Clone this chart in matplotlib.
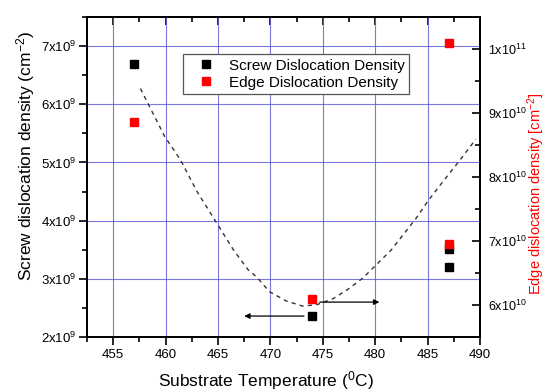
import matplotlib
matplotlib.use("Agg")
import matplotlib.pyplot as plt
from matplotlib.ticker import FuncFormatter, MultipleLocator

plt.rcParams['font.family'] = ['Liberation Sans', 'DejaVu Sans']
plt.rcParams['mathtext.fontset'] = 'custom'
plt.rcParams['mathtext.rm'] = 'Liberation Sans'
plt.rcParams['mathtext.it'] = 'Liberation Sans:italic'
plt.rcParams['mathtext.bf'] = 'Liberation Sans:bold'

# ---- data ----
screw_temp = [457, 474, 487, 487]
screw_density = [6.70e9, 2.36e9, 3.21e9, 3.51e9]

edge_temp = [457, 474, 487, 487]
edge_density = [8.86e10, 6.09e10, 1.01e11, 6.96e10]

# dashed guide curve (left-axis units)
curve_temp = [457.6, 459.9, 461.4, 463.0, 464.8, 466.5, 467.9, 468.7, 469.9,
              471.5, 473.1, 474.5, 476.0, 477.4, 478.8, 481.5, 483.9,
              485.0, 486.5, 488.0, 489.6]
curve_density = [6.27e9, 5.45e9, 5.05e9, 4.50e9, 3.98e9, 3.49e9, 3.15e9, 3.03e9,
                 2.78e9, 2.62e9, 2.53e9, 2.56e9, 2.66e9, 2.82e9, 3.01e9,
                 3.49e9, 4.04e9, 4.33e9, 4.68e9, 5.02e9, 5.40e9]

# arrows (left axis units)
arrow_left = ((473.2, 2.36e9), (467.5, 2.36e9))
arrow_right = ((474.7, 2.60e9), (480.4, 2.60e9))

x_ticks = [455, 460, 465, 470, 475, 480, 485, 490]
left_ticks = [2e9, 3e9, 4e9, 5e9, 6e9, 7e9]
right_ticks = [6e10, 7e10, 8e10, 9e10, 1e11]

fig = plt.figure(figsize=(5.48, 3.92), dpi=100)
ax = fig.add_axes([87/548, 1-337/392, (480-87)/548, (337-17)/392])
ax.set_xlim(452.5, 490)
ax.set_ylim(2e9, 7.5e9)

ax.set_xticks(x_ticks)
ax.xaxis.set_minor_locator(MultipleLocator(2.5))
ax.set_yticks(left_ticks)
ax.yaxis.set_minor_locator(MultipleLocator(0.5e9))
ax.yaxis.set_major_formatter(FuncFormatter(
    lambda v, p: f'{int(round(v/1e9))}x10$^{{9}}$'))
ax.tick_params(axis='x', which='major', direction='out', length=6, width=1.2,
               labelsize=9.5, pad=3)
ax.tick_params(axis='x', which='minor', direction='out', length=3.5, width=1.2)
ax.tick_params(axis='y', which='major', direction='out', length=6, width=1.2,
               labelsize=9.5, pad=1.5)
ax.tick_params(axis='y', which='minor', direction='out', length=3.5, width=1.2)
for s in ax.spines.values():
    s.set_linewidth(1.3)

ax.grid(True, which='major', color='#6060d8', linewidth=0.8, alpha=0.85)
ax.set_axisbelow(True)

top = ax.secondary_xaxis('top')
top.set_xticks(x_ticks)
top.xaxis.set_minor_locator(MultipleLocator(2.5))
top.tick_params(axis='x', which='major', direction='in', length=6, width=1.2,
                labeltop=False)
top.tick_params(axis='x', which='minor', direction='in', length=3.5, width=1.2)
top.spines['top'].set_linewidth(1.3)

ax.plot(curve_temp, curve_density, color='#333333', lw=1.0,
        linestyle=(0, (3.0, 3.0)), zorder=3)

for (start, end) in (arrow_left, arrow_right):
    ax.annotate('', xy=end, xytext=start,
                arrowprops=dict(arrowstyle='-|>', color='black', lw=0.9,
                                mutation_scale=8, shrinkA=0, shrinkB=0),
                zorder=4)

h1, = ax.plot(screw_temp, screw_density, 's', color='black', markersize=6,
              linestyle='none', label='Screw Dislocation Density', zorder=5)

ax2 = ax.twinx()
ax2.set_ylim(5.5e10, 1.05e11)
ax2.set_yticks(right_ticks)
ax2.yaxis.set_minor_locator(MultipleLocator(0.5e10))


def rfmt(v, p):
    if v >= 9.99e10:
        return f'{int(round(v/1e11))}x10$^{{11}}$'
    return f'{int(round(v/1e10))}x10$^{{10}}$'


ax2.yaxis.set_major_formatter(FuncFormatter(rfmt))
ax2.tick_params(axis='y', which='major', direction='in', length=6, width=1.2,
                labelsize=9, pad=6)
ax2.tick_params(axis='y', which='minor', direction='in', length=3.5, width=1.2)
for s in ax2.spines.values():
    s.set_linewidth(1.3)

h2, = ax2.plot(edge_temp, edge_density, 's', color='red', markersize=6,
               linestyle='none', label='Edge Dislocation Density', zorder=5)

leg = ax2.legend(handles=[h1, h2], loc='upper left',
                 bbox_to_anchor=((183-87)/393, (337-54)/320),
                 fontsize=11, frameon=True, fancybox=False, framealpha=1,
                 edgecolor='#555555', borderpad=0.3, labelspacing=0.2,
                 handlelength=2.4, handletextpad=0.3, borderaxespad=0)
leg.get_frame().set_linewidth(0.9)

fig.text(26/548, 1-156/392, 'Screw dislocation density (cm$^{-2}$)',
         rotation=90, ha='center', va='center', fontsize=12.5)
fig.text(536/548, 1-194/392, 'Edge dislocation density [cm$^{-2}$]',
         rotation=90, ha='center', va='center', fontsize=10.5, color='red')
fig.text(266/548, 1-381/392, 'Substrate Temperature ($^{0}$C)',
         ha='center', va='center', fontsize=12.5)

fig.savefig('out.png', dpi=100)
